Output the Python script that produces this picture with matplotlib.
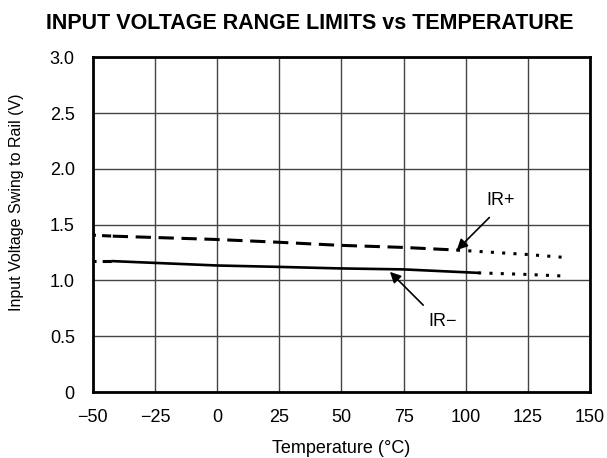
import matplotlib.pyplot as plt

plt.rcParams['font.family'] = ['Liberation Sans', 'DejaVu Sans']

# IR+ : measured (dashed), extrapolated (dotted), lead-in (dash-dot)
irp_t = [-42, 0, 24, 49, 75, 96.5]
irp_v = [1.397, 1.367, 1.343, 1.315, 1.296, 1.272]
irp_ext_t = [96.5, 124.5, 140]
irp_ext_v = [1.272, 1.233, 1.206]
irp_lead_t = [-50, -42]
irp_lead_v = [1.406, 1.397]

# IR- : measured (solid), extrapolated (dotted), lead-in (dash-dot)
irm_t = [-42, 0, 24, 49, 75, 105]
irm_v = [1.173, 1.134, 1.122, 1.108, 1.099, 1.068]
irm_ext_t = [105, 124.5, 140]
irm_ext_v = [1.068, 1.054, 1.039]
irm_lead_t = [-50, -42]
irm_lead_v = [1.173, 1.173]

xticks = [-50, -25, 0, 25, 50, 75, 100, 125, 150]
xlabels = ['\u221250', '\u221225', '0', '25', '50', '75', '100', '125', '150']
yticks = [0, 0.5, 1.0, 1.5, 2.0, 2.5, 3.0]
ylabels = ['0', '0.5', '1.0', '1.5', '2.0', '2.5', '3.0']

fig = plt.figure(figsize=(6.07, 4.58), dpi=100)
ax = fig.add_axes([0.153, 0.144, 0.819, 0.731])

dotted = (0, (1, 2.7))
dashdot = (0, (1, 2, 3, 2))
ax.plot(irp_t, irp_v, color='black', lw=2.2, linestyle=(0, (5, 2.5)))
ax.plot(irp_ext_t, irp_ext_v, color='black', lw=2.2, linestyle=dotted)
ax.plot(irp_lead_t, irp_lead_v, color='black', lw=2.2, linestyle=dashdot)
ax.plot(irm_t, irm_v, color='black', lw=1.9)
ax.plot(irm_ext_t, irm_ext_v, color='black', lw=2.2, linestyle=dotted)
ax.plot(irm_lead_t, irm_lead_v, color='black', lw=2.2, linestyle=dashdot)

ax.annotate('', xy=(96.4, 1.272), xytext=(109.5, 1.564),
            arrowprops=dict(arrowstyle='-|>', color='black', lw=1.2,
                            shrinkA=0, shrinkB=0, mutation_scale=16))
ax.text(114, 1.72, 'IR+', fontsize=13, ha='center', va='center')
ax.annotate('', xy=(69.5, 1.077), xytext=(82.9, 0.779),
            arrowprops=dict(arrowstyle='-|>', color='black', lw=1.2,
                            shrinkA=0, shrinkB=0, mutation_scale=16))
ax.text(90.7, 0.63, 'IR\u2212', fontsize=13, ha='center', va='center')

ax.set_xlim(-50, 150)
ax.set_ylim(0, 3.0)
ax.set_xticks(xticks)
ax.set_xticklabels(xlabels)
ax.set_yticks(yticks)
ax.set_yticklabels(ylabels)
ax.tick_params(length=0, labelsize=13)
ax.tick_params(axis='x', pad=12)
ax.tick_params(axis='y', pad=13)
ax.grid(True, color='#444444', lw=1.0)
for s in ax.spines.values():
    s.set_linewidth(2.0)

ax.set_xlabel('Temperature (\u00b0C)', fontsize=13, va='baseline')
ax.xaxis.set_label_coords(0.5, -0.183)
ax.set_ylabel('Input Voltage Swing to Rail (V)', fontsize=11.5)
ax.yaxis.set_label_coords(-0.139, 0.567)
fig.suptitle('INPUT VOLTAGE RANGE LIMITS vs TEMPERATURE', fontsize=15.5,
             fontweight='bold', x=0.511, y=0.949, va='center')

fig.savefig('out.png', dpi=100)
